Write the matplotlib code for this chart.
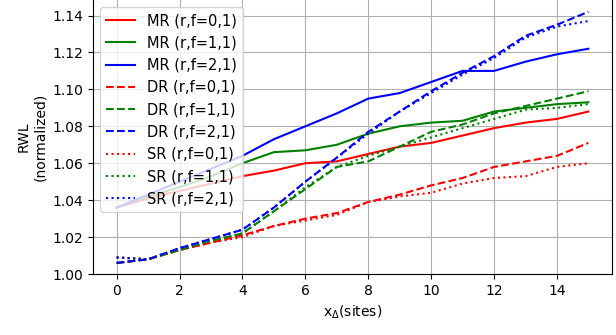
import numpy as np
import matplotlib
matplotlib.use("Agg")
import matplotlib.pyplot as plt

x = np.arange(16)

# MR (solid)
mr_0 = [1.036, 1.041, 1.045, 1.049, 1.053, 1.056, 1.060, 1.061, 1.065, 1.069,
        1.071, 1.075, 1.079, 1.082, 1.084, 1.088]
mr_1 = [1.036, 1.042, 1.047, 1.053, 1.060, 1.066, 1.067, 1.070, 1.076, 1.080,
        1.082, 1.083, 1.088, 1.090, 1.092, 1.093]
mr_2 = [1.036, 1.043, 1.050, 1.057, 1.064, 1.073, 1.080, 1.087, 1.095, 1.098,
        1.104, 1.110, 1.110, 1.115, 1.119, 1.122]

# DR (dashed)
dr_0 = [1.006, 1.008, 1.013, 1.017, 1.021, 1.026, 1.030, 1.033, 1.039, 1.043,
        1.048, 1.052, 1.058, 1.061, 1.064, 1.071]
dr_1 = [1.006, 1.008, 1.013, 1.018, 1.022, 1.034, 1.046, 1.058, 1.061, 1.069,
        1.077, 1.081, 1.087, 1.091, 1.095, 1.099]
dr_2 = [1.006, 1.008, 1.014, 1.019, 1.024, 1.036, 1.050, 1.063, 1.077, 1.088,
        1.099, 1.109, 1.118, 1.129, 1.135, 1.142]

# SR (dotted)
sr_0 = [1.009, 1.008, 1.013, 1.017, 1.020, 1.026, 1.029, 1.032, 1.039, 1.042,
        1.044, 1.049, 1.052, 1.053, 1.058, 1.060]
sr_1 = [1.009, 1.008, 1.013, 1.018, 1.022, 1.034, 1.047, 1.058, 1.064, 1.069,
        1.074, 1.079, 1.084, 1.089, 1.090, 1.092]
sr_2 = [1.009, 1.008, 1.014, 1.019, 1.024, 1.036, 1.050, 1.063, 1.076, 1.088,
        1.098, 1.108, 1.117, 1.128, 1.134, 1.137]

fig = plt.figure(figsize=(6.16, 3.35), dpi=100)
ax = fig.add_axes([0.151, 0.182, 0.8425, 0.818])

ax.plot(x, mr_0, color='red', label='MR (r,f=0,1)')
ax.plot(x, mr_1, color='green', label='MR (r,f=1,1)')
ax.plot(x, mr_2, color='blue', label='MR (r,f=2,1)')
ax.plot(x, dr_0, '--', color='red', label='DR (r,f=0,1)')
ax.plot(x, dr_1, '--', color='green', label='DR (r,f=1,1)')
ax.plot(x, dr_2, '--', color='blue', label='DR (r,f=2,1)')
ax.plot(x, sr_0, ':', color='red', label='SR (r,f=0,1)')
ax.plot(x, sr_1, ':', color='green', label='SR (r,f=1,1)')
ax.plot(x, sr_2, ':', color='blue', label='SR (r,f=2,1)')

ax.set_ylim(1.0, 1.1484)
ax.set_xticks(np.arange(0, 15, 2))
ax.set_yticks(np.arange(1.0, 1.141, 0.02))
ax.grid(True)
ax.spines['top'].set_visible(False)
ax.set_xlabel(r'x$_\Delta$(sites)')
ax.set_ylabel('RWL\n(normalized)', ha='center')
ax.legend(loc='upper left', fontsize=10.5)

fig.savefig('out.png', dpi=100)
